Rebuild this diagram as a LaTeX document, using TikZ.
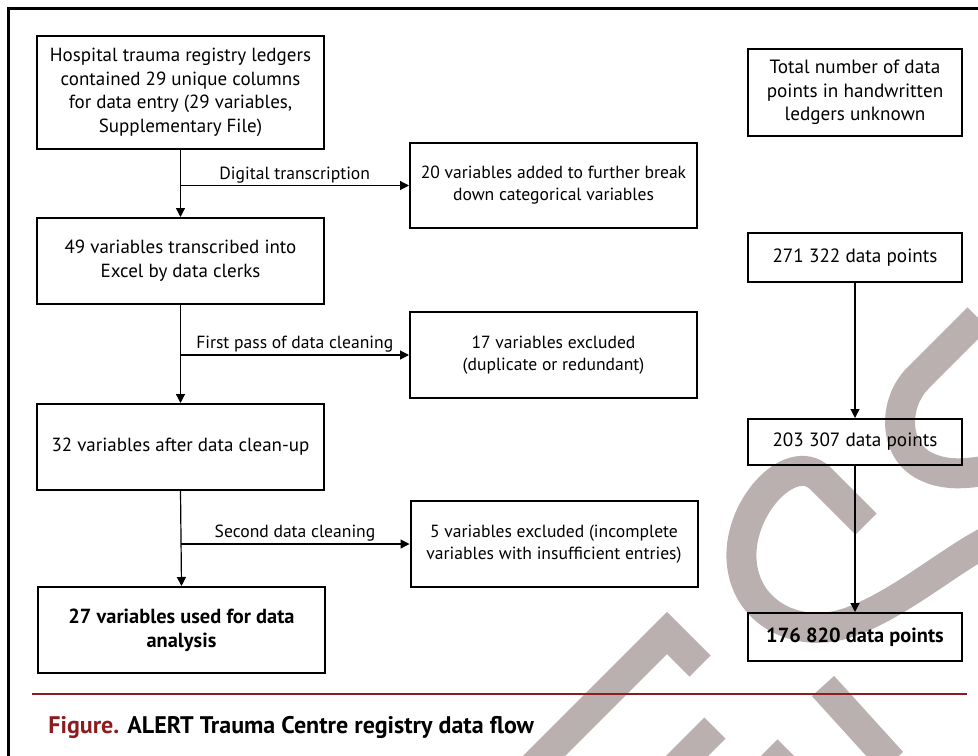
\documentclass[tikz,border=0pt]{standalone}
\usepackage{fontspec}
\setmainfont{PT Sans}
\usetikzlibrary{arrows.meta}

\definecolor{wmgray}{RGB}{186,176,175}
\definecolor{figred}{RGB}{140,28,32}

\tikzset{
  box/.style={draw, line width=1pt, inner sep=0pt, align=center,
    minimum width=143.5pt, minimum height=43pt},
  rbox/.style={box, minimum width=107pt, font=\fontsize{9.6}{11.85}\selectfont},
  midtext/.style={font=\fontsize{8.8}{11}\selectfont},
  boldtext/.style={font=\fontsize{10.2}{12}\selectfont\bfseries},
  arr/.style={line width=0.6pt, -{Triangle[length=4.5pt,width=4.5pt]}},
}

\begin{document}
\begin{tikzpicture}[x=0.5pt,y=-0.5pt,font=\fontsize{9.5}{11.85}\selectfont]
\useasboundingbox (0,0) rectangle (978,755);
\clip (0,0) rectangle (978,755);

% watermark behind everything
\begin{scope}[wmgray, line width=15pt]
\draw[line join=miter] (520,780) -- (667,633) -- (700,666);
\draw (715,728) -- (675,768);
\draw (788,750) -- (770,768);
\draw (823,686) -- (892,762);
\draw (978,318) -- (918,378) .. controls (893,403) and (893,450) .. (925,466)
  .. controls (945,476) and (965,474) .. (990,470);
\draw (866,524) -- (820,478) .. controls (790,450) and (735,510) .. (742,565)
  .. controls (748,615) and (800,640) .. (850,622)
  .. controls (900,604) and (950,560) .. (990,540);
\end{scope}

\draw[line width=1.4pt] (8.5,760) -- (8.5,8.5) -- (985,8.5);

% left column
\node[box, minimum height=56.5pt] (ledger) at (180.5,92.5) {Hospital trauma registry ledgers\\contained 29 unique columns\\for data entry (29 variables,\\Supplementary File)};
\node[box] (excel) at (180.5,261) {49 variables transcribed into\\Excel by data clerks};
\node[box] (clean) at (180.5,447) {32 variables after data clean-up};
\node[box, boldtext] (final) at (181.5,630) {27 variables used for data\\analysis};

% excluded / added
\node[box, midtext, minimum height=42.5pt] (added) at (553.5,185.5) {20 variables added to further break\\down categorical variables};
\node[box, midtext] (dupl) at (553.5,355) {17 variables excluded\\(duplicate or redundant)};
\node[box, midtext] (incompl) at (554,544) {5 variables excluded (incomplete\\variables with insufficient entries)};

% data points
\node[rbox, minimum height=43.5pt] (total) at (855,92.5) {Total number of data\\points in handwritten\\ledgers unknown};
\node[rbox, minimum height=24.5pt] (dp1) at (855,257.5) {271 322 data points};
\node[rbox, minimum height=23pt] (dp2) at (855,442) {203 307 data points};
\node[rbox, minimum height=24pt, boldtext] (dp3) at (855,637) {176 820 data points};

\coordinate (br1) at (ledger.south |- added.west);
\coordinate (br2) at (excel.south |- dupl.west);
\coordinate (br3) at (clean.south |- incompl.west);

\draw[arr] (ledger.south) -- (excel.north);
\draw[arr] (excel.south) -- (clean.north);
\draw[arr] (clean.south) -- (final.north);
\draw[arr] (br1) -- (added.west) node[midway, above, inner sep=1pt, midtext] {Digital transcription};
\draw[arr] (br2) -- (dupl.west) node[midway, above, inner sep=1pt, midtext] {First pass of data cleaning};
\draw[arr] (br3) -- (incompl.west) node[midway, above, inner sep=1pt, midtext] {Second data cleaning};

\draw[arr] (dp1.south) -- (dp2.north);
\draw[arr] (dp2.south) -- (dp3.north);

% caption
\draw[figred, line width=1.1pt] (32,694) -- (967,694);
\node[anchor=base west, inner sep=0pt, font=\fontsize{12}{14}\selectfont\bfseries] (cap) at (48,733)
  {\textcolor{figred}{Figure.} ALERT Trauma Centre registry data flow};

\end{tikzpicture}
\end{document}
